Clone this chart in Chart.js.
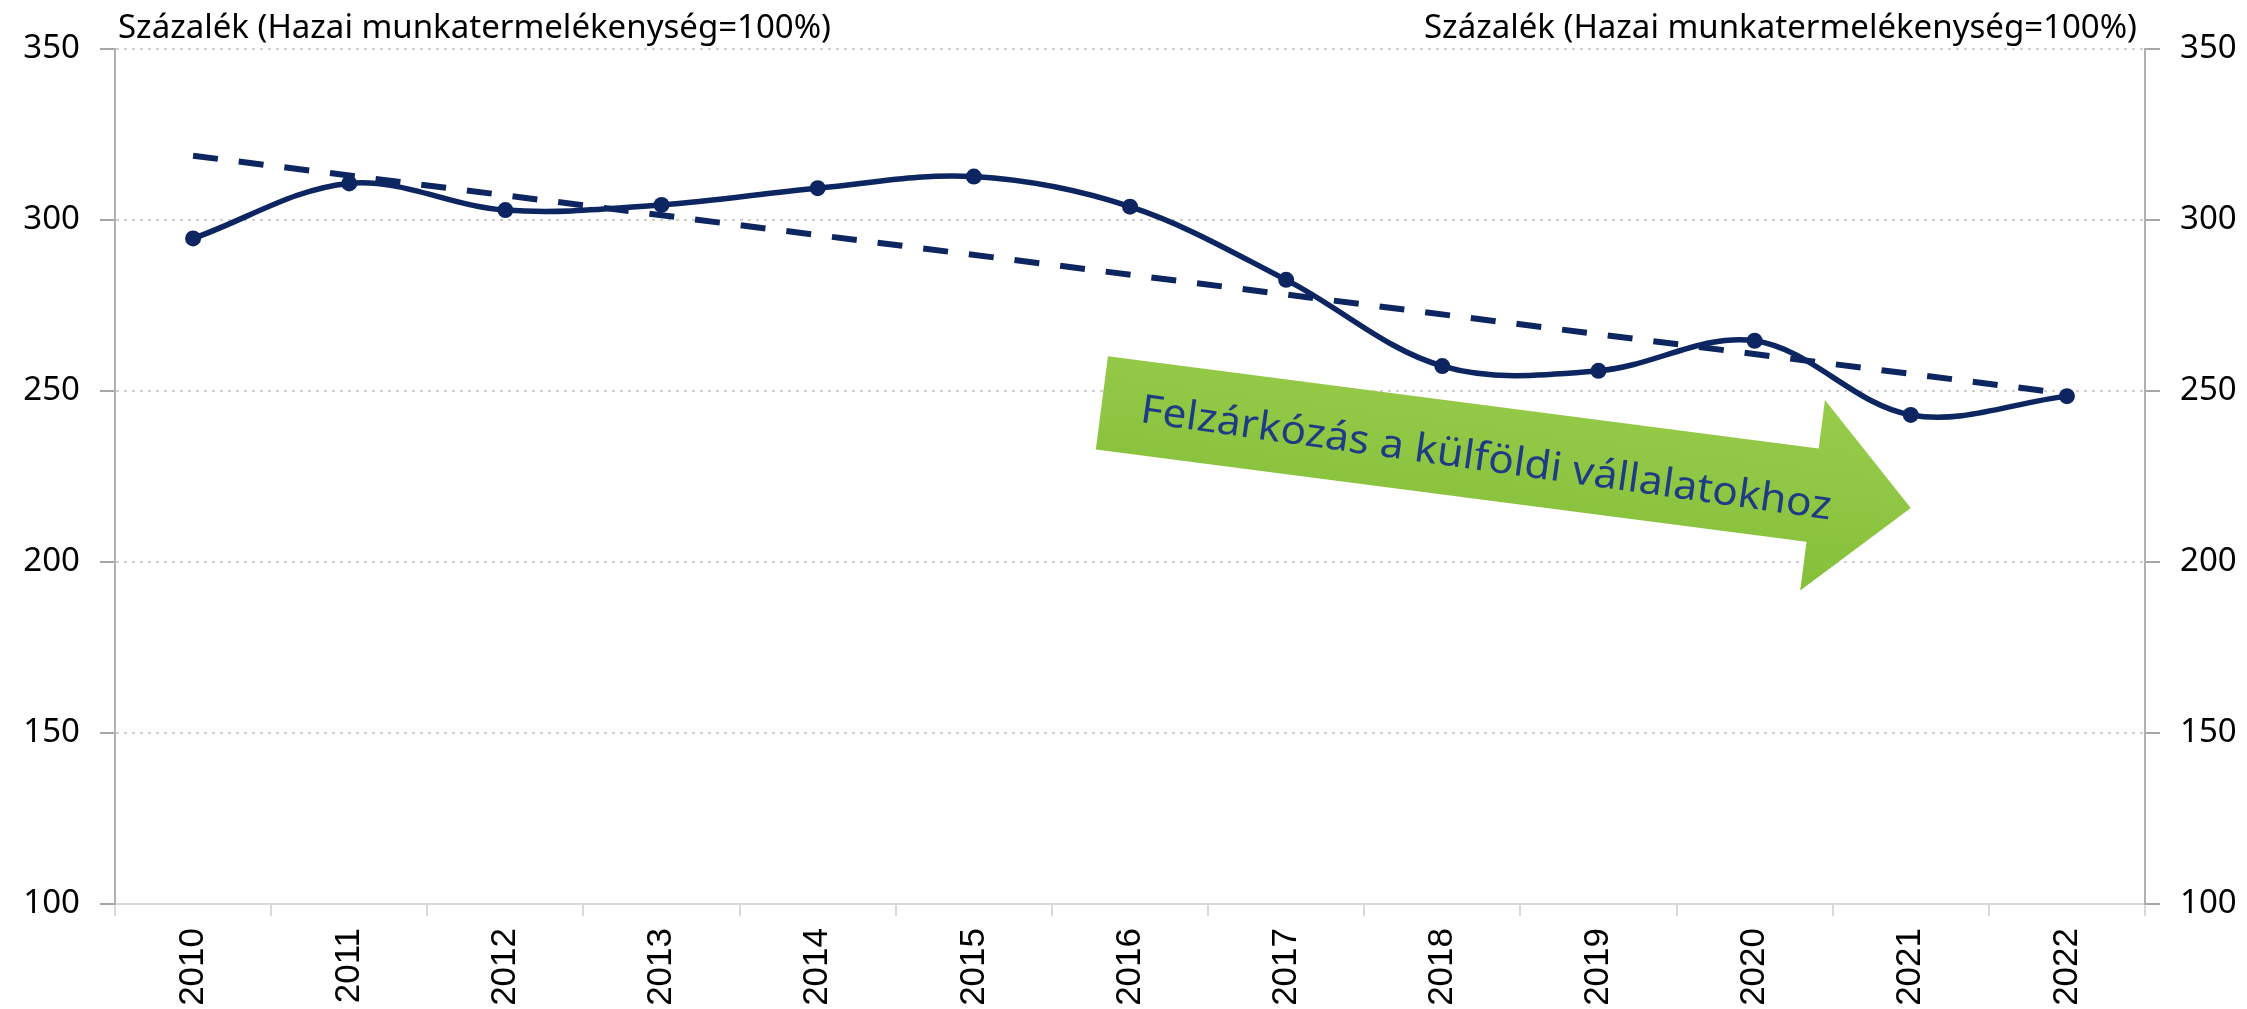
<!DOCTYPE html>
<html>
<head>
<meta charset="utf-8">
<script src="https://cdn.jsdelivr.net/npm/chart.js@4.4.0/dist/chart.umd.min.js"></script>
<style>
  html, body { margin: 0; padding: 0; background: #fff; }
  canvas { display: block; }
</style>
</head>
<body>
<canvas id="myChart" width="2247" height="1009"></canvas>
<script>
const years = ['2010', '2011', '2012', '2013', '2014', '2015', '2016', '2017', '2018', '2019', '2020', '2021', '2022'];
const productivity = [294.6, 310.7, 302.9, 304.4, 309.3, 312.7, 303.9, 282.5, 257.3, 255.9, 264.7, 243.0, 248.5];
// trend line: only the two end points
const trend = [318.8, null, null, null, null, null, null, null, null, null, null, null, 249.2];
const yMin = 100, yMax = 350, yStep = 50;
const axisTitle = 'Százalék (Hazai munkatermelékenység=100%)';
const arrowText = 'Felzárkózás a külföldi vállalatokhoz';

const navy = '#0d2561';

const titles = {
  id: 'titles',
  afterDraw(chart) {
    const c = chart.ctx, a = chart.chartArea;
    c.save();
    c.fillStyle = '#000';
    c.font = '33px "Noto Sans"';
    c.textBaseline = 'alphabetic';
    c.textAlign = 'left';
    c.fillText(axisTitle, a.left + 3, 38);
    c.textAlign = 'right';
    c.fillText(axisTitle, a.right - 8, 38);
    c.restore();
  }
};

const arrow = {
  id: 'arrow',
  beforeDatasetsDraw(chart) {
    const c = chart.ctx, x = chart.scales.x, y = chart.scales.y;
    const sx = x.getPixelForValue(5.82), sy = y.getPixelForValue(246.5);
    const tx = x.getPixelForValue(11), ty = y.getPixelForValue(215.8);
    const L = Math.hypot(tx - sx, ty - sy);
    const ang = Math.atan2(ty - sy, tx - sx);
    const body = 47, head = 96, headLen = 99;
    c.save();
    c.translate(sx, sy);
    c.rotate(ang);
    const g = c.createLinearGradient(0, -head, 0, head);
    g.addColorStop(0, '#98cc4b');
    g.addColorStop(1, '#86c03b');
    c.fillStyle = g;
    c.beginPath();
    c.moveTo(0, -body);
    c.lineTo(L - headLen, -body);
    c.lineTo(L - headLen, -head);
    c.lineTo(L, 0);
    c.lineTo(L - headLen, head);
    c.lineTo(L - headLen, body);
    c.lineTo(0, body);
    c.closePath();
    c.fill();
    c.font = '40px "Noto Sans"';
    const w = c.measureText(arrowText).width;
    const k = 697 / w;
    c.translate(388, 18);
    c.rotate(0.011);
    c.scale(k, 1);
    c.fillStyle = '#1d3c84';
    c.textAlign = 'center';
    c.textBaseline = 'alphabetic';
    c.fillText(arrowText, 0, 0);
    c.restore();
  }
};

const yTicks = { stepSize: yStep, color: '#000', font: { family: 'Noto Sans', size: 33 }, padding: 20 };

new Chart(document.getElementById('myChart'), {
  type: 'line',
  data: {
    labels: years,
    datasets: [{
      label: 'Termelékenység',
      data: productivity,
      borderColor: navy,
      backgroundColor: navy,
      borderWidth: 5.5,
      tension: 0.35,
      pointRadius: 8,
      pointBorderWidth: 0,
      pointBackgroundColor: navy
    }, {
      label: 'Trend',
      data: trend,
      spanGaps: true,
      borderColor: navy,
      borderWidth: 6,
      borderDash: [25, 21],
      borderCapStyle: 'butt',
      pointRadius: 0,
      tension: 0
    }]
  },
  options: {
    responsive: false,
    animation: false,
    devicePixelRatio: 1,
    layout: { padding: { top: 49, left: 0, right: 0, bottom: 0 } },
    plugins: { legend: { display: false }, tooltip: { enabled: false } },
    scales: {
      x: {
        offset: true,
        grid: { offset: true, drawOnChartArea: false, color: '#d9d9d9', lineWidth: 2, tickLength: 12 },
        border: { color: '#d9d9d9', width: 2 },
        ticks: { minRotation: 90, maxRotation: 90, color: '#000', font: { family: 'Liberation Sans', size: 35 }, padding: 12 },
        afterFit(s) { s.height = 105; }
      },
      y: {
        position: 'left',
        min: yMin, max: yMax,
        ticks: yTicks,
        grid: { color: '#cfcfcf', lineWidth: 2, tickLength: 15, tickColor: '#a6a6a6', tickWidth: 2 },
        border: { color: '#b0b0b0', width: 2, dash: [3, 5] },
        afterFit(s) { s.width = 115; }
      },
      y2: {
        position: 'right',
        min: yMin, max: yMax,
        ticks: yTicks,
        grid: { drawOnChartArea: false, tickLength: 15, color: '#a6a6a6', lineWidth: 2 },
        border: { color: '#b0b0b0', width: 2 },
        afterFit(s) { s.width = 102; }
      }
    }
  },
  plugins: [arrow, titles]
});
</script>
</body>
</html>
